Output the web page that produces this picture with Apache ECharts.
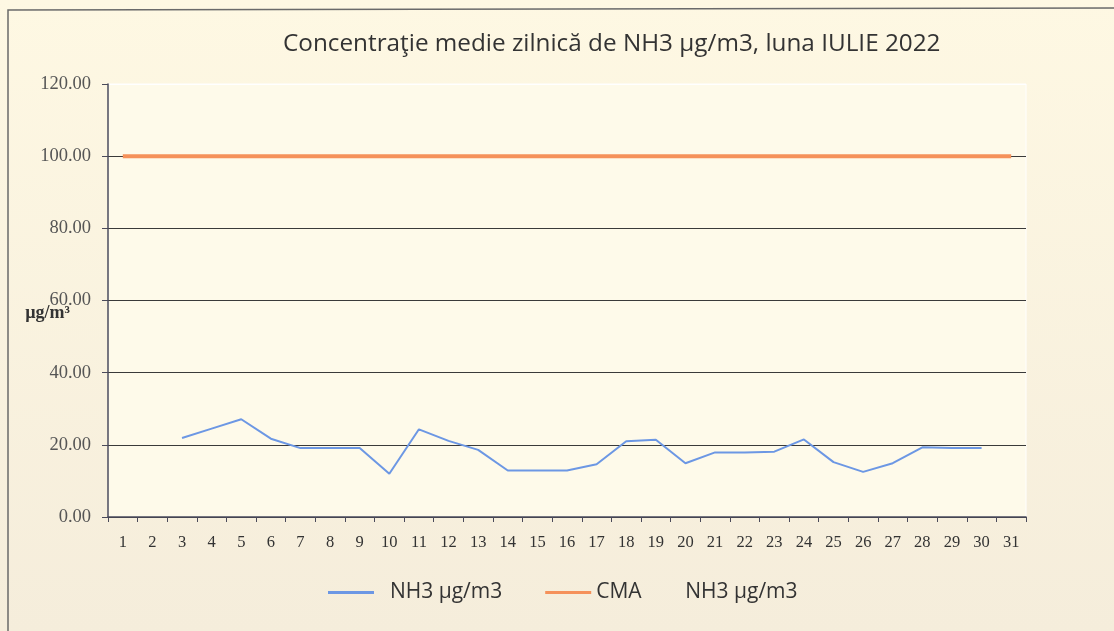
<!DOCTYPE html>
<html>
<head>
<meta charset="utf-8">
<script src="https://cdn.jsdelivr.net/npm/echarts@6/dist/echarts.min.js"></script>
<style>
  html, body { margin: 0; padding: 0; background: #fcf5e0; }
  #chart { width: 1114px; height: 631px; }
</style>
</head>
<body>
<div id="chart"></div>
<script>
const days = ['1','2','3','4','5','6','7','8','9','10','11','12','13','14','15','16',
  '17','18','19','20','21','22','23','24','25','26','27','28','29','30','31'];
const nh3 = [null, null, 21.9, 24.5, 27.1, 21.7, 19.1, 19.1, 19.1, 12.0, 24.3, 21.1, 18.6,
  12.9, 12.9, 12.9, 14.6, 21.0, 21.4, 14.9, 17.9, 17.9, 18.1, 21.5, 15.2, 12.5, 14.9,
  19.3, 19.1, 19.1, null];
const cma = days.map(() => 100);
const yTicks = [0, 20, 40, 60, 80, 100, 120];

const chart = echarts.init(document.getElementById('chart'));

const serif = '"Liberation Serif", "DejaVu Serif", serif';
const sans = '"Open Sans", "Liberation Sans", sans-serif';

chart.setOption({
  animation: false,
  backgroundColor: {
    type: 'linear', x: 0, y: 0, x2: 0, y2: 1,
    colorStops: [{ offset: 0, color: '#fef8e3' }, { offset: 1, color: '#f5eddb' }]
  },
  title: {
    text: 'Concentraţie medie zilnică de NH3 µg/m3, luna IULIE 2022',
    left: 278,
    top: 27,
    textStyle: { fontFamily: sans, fontSize: 24.3, fontWeight: 'normal', color: '#333' }
  },
  legend: {
    bottom: 23,
    left: 323,
    itemWidth: 46,
    itemGap: 43,
    icon: 'rect',
    itemHeight: 3,
    textStyle: { fontFamily: sans, fontSize: 21, color: '#333' },
    formatter: name => name === 'NH3 µg/m3' ? '  ' + name : name,
    data: ['NH3 µg/m3', 'CMA        NH3 µg/m3']
  },
  grid: {
    left: 108, right: 88, top: 84, bottom: 114,
    outerBoundsMode: 'none',
    show: true, backgroundColor: '#fefaea', borderColor: '#ffffff', borderWidth: 1
  },
  xAxis: {
    type: 'category',
    data: days,
    boundaryGap: true,
    axisLine: { lineStyle: { color: '#4a4a5a', width: 1.5 } },
    axisTick: { show: true, length: 5, lineStyle: { color: '#4a4a5a' } },
    axisLabel: { fontFamily: serif, fontSize: 16.5, color: '#333', margin: 17, interval: 0 }
  },
  yAxis: {
    type: 'value',
    min: yTicks[0],
    max: yTicks[yTicks.length - 1],
    interval: 20,
    name: 'µg/m³',
    nameLocation: 'middle',
    nameRotate: 0,
    nameGap: 38,
    nameMoveOverlap: false,
    nameTextStyle: { fontFamily: serif, fontSize: 18, fontWeight: 'bold', color: '#333', verticalAlign: 'top', padding: [4, 0, 0, 0] },
    axisLine: { show: true, lineStyle: { color: '#4a4a5a', width: 1.5 } },
    axisTick: { show: true, length: 6, lineStyle: { color: '#4a4a5a' } },
    axisLabel: {
      fontFamily: serif, fontSize: 18.5, color: '#555', margin: 17,
      formatter: v => v.toFixed(2)
    },
    splitLine: {
      lineStyle: { color: ['#3a3a3a', '#3a3a3a', '#3a3a3a', '#3a3a3a', '#3a3a3a', '#3a3a3a', '#ffffff'], width: 1 }
    }
  },
  series: [
    {
      name: 'NH3 µg/m3',
      type: 'line',
      data: nh3,
      symbol: 'none',
      connectNulls: false,
      lineStyle: { color: '#6c97e4', width: 2 },
      itemStyle: { color: '#6c97e4' }
    },
    {
      name: 'CMA        NH3 µg/m3',
      type: 'line',
      data: cma,
      symbol: 'none',
      z: 3,
      lineStyle: { color: '#f5915a', width: 4 },
      itemStyle: { color: '#f5915a' }
    }
  ],
  graphic: [
    {
      type: 'polyline',
      shape: { points: [[8, 631], [8, 10], [1114, 8]] },
      style: { stroke: '#6a6a6a', lineWidth: 1.5, fill: null }
    }
  ]
});
</script>
</body>
</html>
